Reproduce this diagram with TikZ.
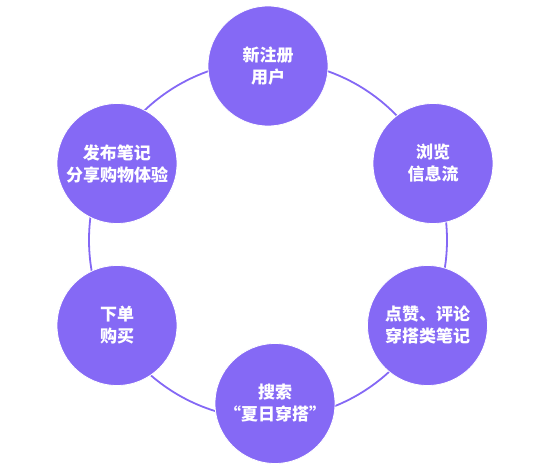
\documentclass[tikz,border=0pt]{standalone}
\usepackage{fontspec}
\newfontfamily\cjk{Noto Sans CJK SC}
\definecolor{ringpurple}{HTML}{8468F5}
\definecolor{stagepurple}{HTML}{8569F5}
\tikzset{
  stage/.style={circle, fill=stagepurple, draw=white, line width=0.8pt,
    minimum size=120pt, inner sep=0pt, align=center, text=white,
    font=\cjk\bfseries\fontsize{17}{22}\selectfont},
}
\begin{document}
\begin{tikzpicture}[x=1pt,y=-1pt]
      \useasboundingbox (0,0) rectangle (549,471);
      \coordinate (hub) at (268,240);
      \draw[ringpurple, line width=1.8pt] (hub) circle[radius=179];

      \node[stage] (signup) at (268,66) {新注册\\用户};
      \node[stage] (browse) at (433,163.5) {浏览\\信息流};
      \node[stage] (react) at (427.5,325.5) {点赞、评论\\穿搭类笔记};

      \node[stage] (search) at (275,403.5) {搜索\\“夏日穿搭”};
      \node[stage] (order) at (117,325.5) {下单\\购买};
      \node[stage] (post) at (117,163.5) {发布笔记\\分享购物体验};
    \end{tikzpicture}
\end{document}
